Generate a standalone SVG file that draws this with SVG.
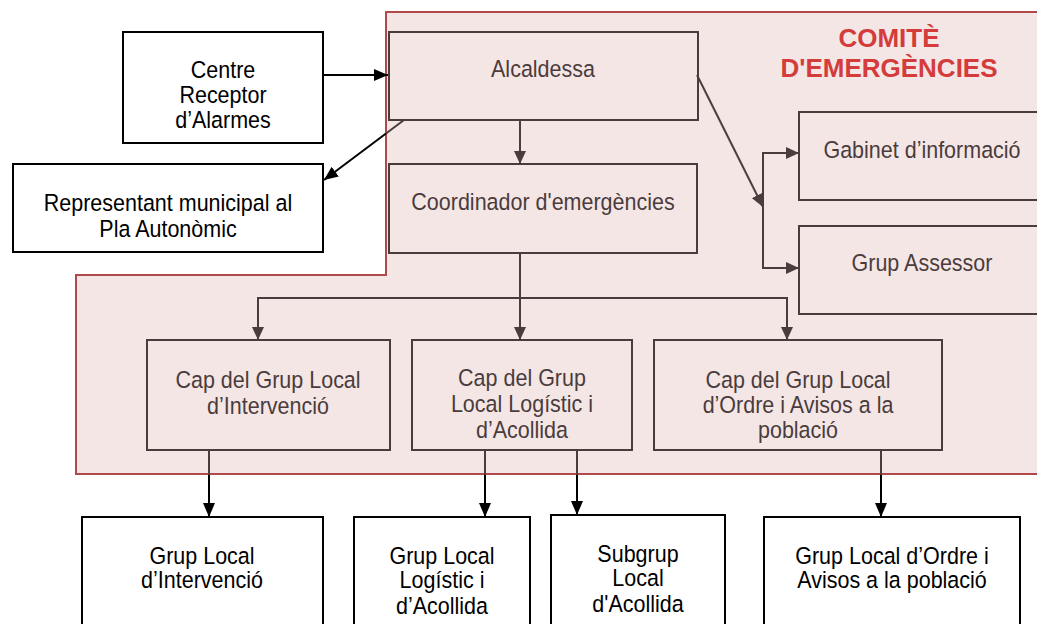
<svg xmlns="http://www.w3.org/2000/svg" width="1037" height="624" viewBox="0 0 1037 624">
<style>
.in{fill:none;stroke:#4a3c3c;stroke-width:2}
.out{fill:#fff;stroke:#000;stroke-width:2}
.ti{font-family:"Liberation Sans",Arial,sans-serif;font-size:21.5px;fill:#4a3c3c;text-anchor:middle}
.to{font-family:"Liberation Sans",Arial,sans-serif;font-size:21.5px;fill:#000;text-anchor:middle}
.cin{fill:none;stroke:#4a3c3c;stroke-width:2}
.cout{fill:none;stroke:#000;stroke-width:2}
.title{font-family:"Liberation Sans",Arial,sans-serif;font-size:26px;font-weight:bold;fill:#d43c3c;text-anchor:middle}
</style>
<defs>
<marker id="ai" viewBox="0 0 13 12" refX="13" refY="6" markerWidth="13" markerHeight="12" markerUnits="userSpaceOnUse" orient="auto"><path d="M0,0L13,6L0,12z" fill="#4a3c3c"/></marker>
<marker id="ao" viewBox="0 0 14 12" refX="14" refY="6" markerWidth="14" markerHeight="12" markerUnits="userSpaceOnUse" orient="auto"><path d="M0,0L14,6L0,12z" fill="#000"/></marker>
</defs>
<rect width="1037" height="624" fill="#fff"/>
<g id="comite">
<path d="M1040,12H386V275H76V474H1040" fill="#f5e6e6" stroke="#b04a4a" stroke-width="2"/>
<text class="title" x="889" y="47">COMITÈ</text>
<text class="title" x="889" y="77">D'EMERGÈNCIES</text>
</g>
<g id="centre"><rect class="out" x="123" y="32" width="200" height="111"/>
<text class="to" transform="matrix(1,0,0,1.14,223,78)">Centre</text>
<text class="to" transform="matrix(1,0,0,1.14,223,103)">Receptor</text>
<text class="to" transform="matrix(1,0,0,1.14,223,128)">d’Alarmes</text></g>
<g id="representant"><rect class="out" x="13" y="164" width="310" height="88"/>
<text class="to" transform="matrix(1,0,0,1.14,168,211)">Representant municipal al</text>
<text class="to" transform="matrix(1,0,0,1.14,168,237)">Pla Autonòmic</text></g>
<g id="alcaldessa"><rect class="in" x="389" y="32" width="309" height="88"/>
<text class="ti" transform="matrix(1,0,0,1.14,543,77)">Alcaldessa</text></g>
<g id="coordinador"><rect class="in" x="389" y="164" width="308" height="89"/>
<text class="ti" transform="matrix(1,0,0,1.14,543,210)">Coordinador d'emergències</text></g>
<g id="gabinet"><rect class="in" x="799" y="112" width="250" height="88"/>
<text class="ti" transform="matrix(1,0,0,1.14,922,158)">Gabinet d’informació</text></g>
<g id="assessor"><rect class="in" x="799" y="226" width="250" height="88"/>
<text class="ti" transform="matrix(1,0,0,1.14,922,271)">Grup Assessor</text></g>
<g id="cap1"><rect class="in" x="147" y="340" width="243" height="110"/>
<text class="ti" transform="matrix(1,0,0,1.14,268,388)">Cap del Grup Local</text>
<text class="ti" transform="matrix(1,0,0,1.14,268,414)">d’Intervenció</text></g>
<g id="cap2"><rect class="in" x="412" y="340" width="220" height="110"/>
<text class="ti" transform="matrix(1,0,0,1.14,522,386)">Cap del Grup</text>
<text class="ti" transform="matrix(1,0,0,1.14,522,412)">Local Logístic i</text>
<text class="ti" transform="matrix(1,0,0,1.14,522,438)">d’Acollida</text></g>
<g id="cap3"><rect class="in" x="654" y="340" width="288" height="110"/>
<text class="ti" transform="matrix(1,0,0,1.14,798,388)">Cap del Grup Local</text>
<text class="ti" transform="matrix(1,0,0,1.14,798,413)">d’Ordre i Avisos a la</text>
<text class="ti" transform="matrix(1,0,0,1.14,798,438)">població</text></g>
<g id="grup1"><rect class="out" x="82" y="517" width="241" height="130"/>
<text class="to" transform="matrix(1,0,0,1.14,202,564)">Grup Local</text>
<text class="to" transform="matrix(1,0,0,1.14,202,588)">d’Intervenció</text></g>
<g id="grup2"><rect class="out" x="354" y="517" width="176" height="130"/>
<text class="to" transform="matrix(1,0,0,1.14,442,564)">Grup Local</text>
<text class="to" transform="matrix(1,0,0,1.14,442,588)">Logístic i</text>
<text class="to" transform="matrix(1,0,0,1.14,442,614)">d’Acollida</text></g>
<g id="subgrup"><rect class="out" x="551" y="515" width="174" height="130"/>
<text class="to" transform="matrix(1,0,0,1.14,638,562)">Subgrup</text>
<text class="to" transform="matrix(1,0,0,1.14,638,586)">Local</text>
<text class="to" transform="matrix(1,0,0,1.14,638,612)">d'Acollida</text></g>
<g id="grup4"><rect class="out" x="764" y="517" width="256" height="130"/>
<text class="to" transform="matrix(1,0,0,1.14,892,564)">Grup Local d’Ordre i</text>
<text class="to" transform="matrix(1,0,0,1.14,892,588)">Avisos a la població</text></g>
<g id="connectors">
<line class="cout" x1="323" y1="75" x2="388" y2="75" marker-end="url(#ao)"/>
<line class="cin" x1="404" y1="120" x2="386" y2="133.5"/>
<line class="cout" x1="386" y1="133.5" x2="324" y2="180" marker-end="url(#ao)"/>
<line class="cin" x1="520" y1="120" x2="520" y2="164" marker-end="url(#ai)"/>
<line class="cin" x1="697" y1="75" x2="763" y2="207" marker-end="url(#ai)"/>
<path class="cin" d="M799,153H763V268H799" />
<line class="cin" x1="763" y1="153" x2="799" y2="153" marker-end="url(#ai)"/>
<line class="cin" x1="763" y1="268" x2="799" y2="268" marker-end="url(#ai)"/>
<line class="cin" x1="520" y1="253" x2="520" y2="340" marker-end="url(#ai)"/>
<path class="cin" d="M258,340V298H787V340"/>
<line class="cin" x1="258" y1="298" x2="258" y2="340" marker-end="url(#ai)"/>
<line class="cin" x1="787" y1="298" x2="787" y2="340" marker-end="url(#ai)"/>
<line class="cin" x1="209" y1="450" x2="209" y2="475"/>
<line class="cout" x1="209" y1="475" x2="209" y2="517" marker-end="url(#ao)"/>
<line class="cin" x1="485" y1="450" x2="485" y2="475"/>
<line class="cout" x1="485" y1="475" x2="485" y2="517" marker-end="url(#ao)"/>
<line class="cin" x1="577" y1="450" x2="577" y2="475"/>
<line class="cout" x1="577" y1="475" x2="577" y2="515" marker-end="url(#ao)"/>
<line class="cin" x1="881" y1="450" x2="881" y2="475"/>
<line class="cout" x1="881" y1="475" x2="881" y2="517" marker-end="url(#ao)"/>
</g>
</svg>
